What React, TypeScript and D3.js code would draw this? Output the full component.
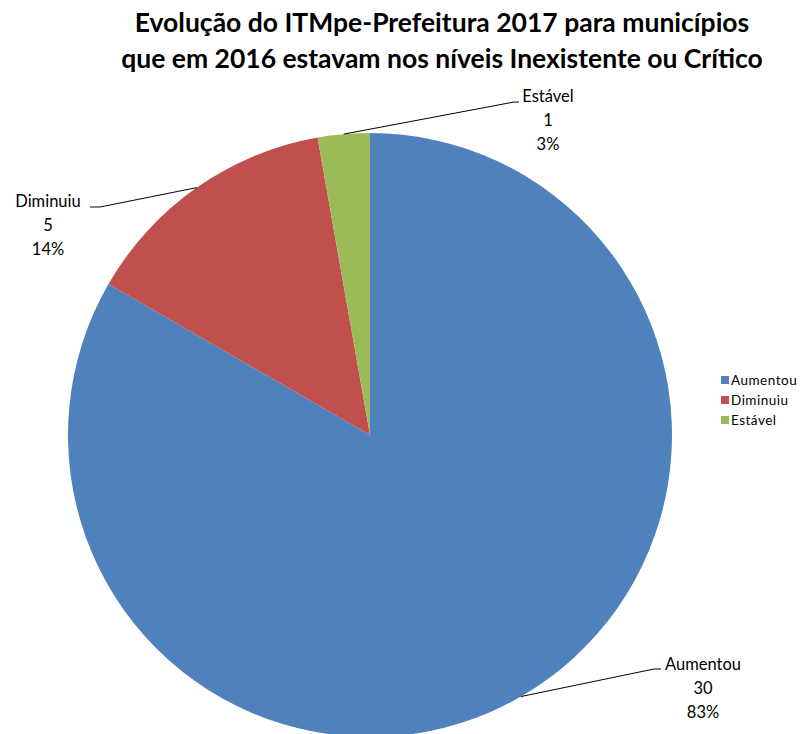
import React, { useEffect, useRef } from 'react'
import * as d3 from 'd3'

const categories = ['Aumentou', 'Diminuiu', 'Estável']
const counts = [30, 5, 1]
const colors = ['#4F81BD', '#C0504D', '#9BBB59']

const titleLines = [
  'Evolução do ITMpe-Prefeitura 2017 para municípios',
  'que em 2016 estavam nos níveis Inexistente ou Crítico',
]

// where Excel put each data label: text block centre, leader line height and elbow span
const labelLayout = [
  { x: 703, y: 664, lineY: 669, elbow: [654, 661] },
  { x: 48, y: 201, lineY: 207, elbow: [100, 90] },
  { x: 548, y: 96, lineY: 102, elbow: [514, 519] },
]

const W = 800
const H = 734

export default function App() {
  const ref = useRef<SVGSVGElement | null>(null)

  useEffect(() => {
    document.body.style.margin = '0'
    if (!ref.current) return
    const svg = d3.select(ref.current)
    svg.selectAll('*').remove()

    const font = 'Lato, "Open Sans", sans-serif'
    const cx = 370
    const cy = 435
    const r = 302

    svg
      .append('g')
      .selectAll('text')
      .data(titleLines)
      .join('text')
      .attr('x', 442)
      .attr('y', (_, i) => 32 + i * 36)
      .attr('text-anchor', 'middle')
      .style('font-family', font)
      .style('font-weight', 'bold')
      .style('font-size', '26.5px')
      .style('fill', '#000')
      .text((d) => d)

    const data = categories.map((c, i) => ({ name: c, value: counts[i], color: colors[i] }))
    const total = d3.sum(counts)
    const pie = d3
      .pie<(typeof data)[number]>()
      .sort(null)
      .value((d) => d.value)
    const arcs = pie(data)
    const arc = d3.arc<d3.PieArcDatum<(typeof data)[number]>>().innerRadius(0).outerRadius(r)

    const g = svg.append('g').attr('transform', `translate(${cx},${cy})`)
    g.selectAll('path')
      .data(arcs)
      .join('path')
      .attr('d', arc)
      .attr('fill', (d) => d.data.color)

    // leader lines start on the rim at the middle of each slice
    const rim = (a: d3.PieArcDatum<any>) => {
      const m = (a.startAngle + a.endAngle) / 2
      return [cx + r * Math.sin(m), cy - r * Math.cos(m)]
    }
    const labels = svg.append('g')
    arcs.forEach((a, i) => {
      const L = labelLayout[i]
      const [ex, ey] = rim(a)
      labels
        .append('path')
        .attr('d', `M${ex},${ey}L${L.elbow[0]},${L.lineY}L${L.elbow[1]},${L.lineY}`)
        .attr('fill', 'none')
        .attr('stroke', '#000')
        .attr('stroke-width', 1)
      const pct = Math.round((a.data.value / total) * 100) + '%'
      labels
        .append('g')
        .selectAll('text')
        .data([a.data.name, String(a.data.value), pct])
        .join('text')
        .attr('x', L.x)
        .attr('y', (_, j) => L.y + j * 24)
        .attr('text-anchor', 'middle')
        .attr('dy', '0.35em')
        .style('font-family', font)
        .style('font-size', '16.5px')
        .style('fill', '#000')
        .text((d) => d)
    })

    // legend
    const legend = svg.append('g').attr('transform', 'translate(721,380)')
    const rows = legend
      .selectAll('g')
      .data(data)
      .join('g')
      .attr('transform', (_, i) => `translate(0,${i * 20})`)
    rows
      .append('rect')
      .attr('x', 0)
      .attr('y', -4)
      .attr('width', 8)
      .attr('height', 8)
      .attr('fill', (d) => d.color)
    rows
      .append('text')
      .attr('x', 10)
      .attr('y', 0)
      .attr('dy', '0.35em')
      .style('font-family', font)
      .style('font-size', '13.5px')
      .style('letter-spacing', '0.5px')
      .style('fill', '#000')
      .text((d) => d.name)
  }, [])

  return <svg ref={ref} width={W} height={H} style={{ display: 'block', background: '#fff' }} />
}
